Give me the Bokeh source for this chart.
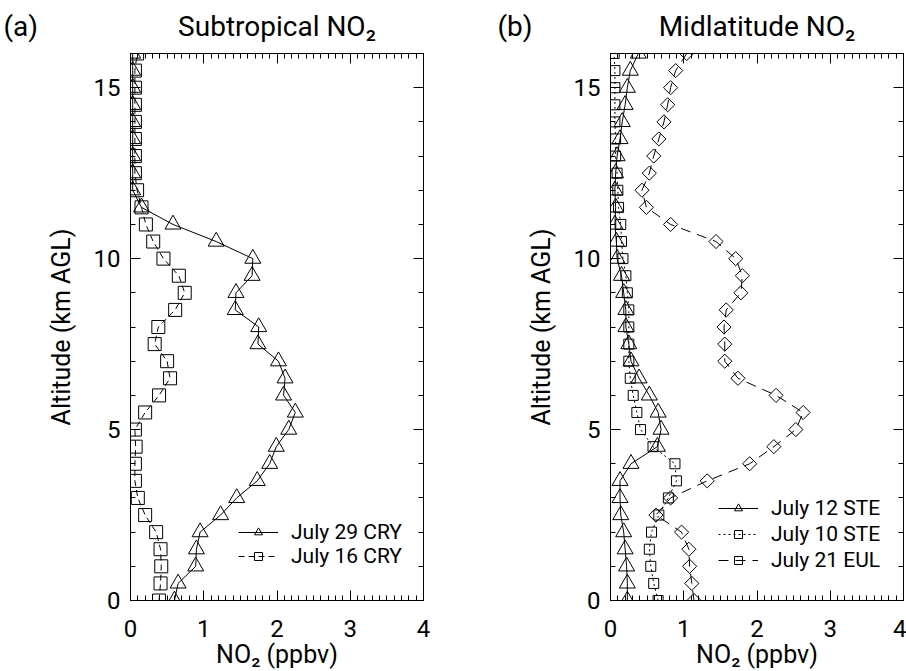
import numpy as np
from bokeh.plotting import figure
from bokeh.layouts import row, column
from bokeh.models import (LinearAxis, SingleIntervalTicker, Range1d, Legend,
                          LegendItem, Label, CustomLabelingPolicy)
from bokeh.embed import file_html
from bokeh.resources import INLINE

# ---------------- data ----------------
altitude_km = [0.0, 0.5, 1.0, 1.5, 2.0, 2.5, 3.0, 3.5, 4.0, 4.5, 5.0, 5.5,
               6.0, 6.5, 7.0, 7.5, 8.0, 8.5, 9.0, 9.5, 10.0, 10.5, 11.0, 11.5,
               12.0, 12.5, 13.0, 13.5, 14.0, 14.5, 15.0, 15.5, 16.0]

# (a) Subtropical
jul29_cry = [0.60, 0.65, 0.89, 0.90, 0.95, 1.23, 1.45, 1.73, 1.90, 1.99, 2.16, 2.25,
             2.09, 2.11, 2.02, 1.74, 1.75, 1.43, 1.44, 1.66, 1.67, 1.17, 0.58, 0.15,
             0.03, 0.03, 0.03, 0.03, 0.03, 0.03, 0.03, 0.03, 0.03]
jul16_cry = [0.39, 0.41, 0.42, 0.41, 0.35, 0.20, 0.10, 0.06, 0.06, 0.07, 0.06, 0.20,
             0.39, 0.54, 0.50, 0.33, 0.38, 0.61, 0.74, 0.66, 0.45, 0.31, 0.21, 0.15,
             0.09, 0.06, 0.06, 0.06, 0.06, 0.06, 0.06, 0.06, 0.09]

# (b) Midlatitude
jul12_ste = [0.23, 0.23, 0.22, 0.20, 0.18, 0.14, 0.13, 0.13, 0.28, 0.64, 0.69, 0.65,
             0.53, 0.39, 0.28, 0.25, 0.21, 0.21, 0.18, 0.15, 0.09, 0.08, 0.06, 0.07,
             0.06, 0.07, 0.09, 0.13, 0.16, 0.20, 0.23, 0.27, 0.38]
jul10_ste = [0.65, 0.59, 0.55, 0.53, 0.56, 0.66, 0.79, 0.90, 0.88, 0.58, 0.41, 0.36,
             0.31, 0.27, 0.25, 0.25, 0.25, 0.25, 0.23, 0.21, 0.17, 0.15, 0.14, 0.11,
             0.10, 0.09, 0.07, 0.07, 0.06, 0.06, 0.06, 0.06, 0.05]
jul21_eul = [1.14, 1.11, 1.08, 1.07, 0.97, 0.62, 0.82, 1.32, 1.90, 2.23, 2.53, 2.63,
             2.26, 1.74, 1.56, 1.56, 1.55, 1.58, 1.78, 1.80, 1.71, 1.44, 0.82, 0.49,
             0.43, 0.53, 0.59, 0.66, 0.73, 0.78, 0.82, 0.89, 1.04]

x_label = "NO\u2082 (ppbv)"
y_label = "Altitude (km AGL)"
panel_tags = ["(a)", "(b)"]
panel_titles = ["Subtropical NO\u2082", "Midlatitude NO\u2082"]

FONT = "Roboto"
W, H = 906, 671
HEADER_H = 45
FIG_W = 453
FRAME_W = 293
LEFT_BORDERS = [130, 157]

hide_labels = CustomLabelingPolicy(code="""
try { for (const i of Array.from(indices)) { indices.unset(i) } } catch (e) {}
return indices
""")


def make_fig(left_border, right_border):
    p = figure(width=FIG_W, height=H - HEADER_H, x_range=Range1d(0, 4), y_range=Range1d(0, 16),
               output_backend="svg", toolbar_location=None, title_location=None,
               min_border_left=left_border, min_border_right=right_border,
               min_border_top=53 - HEADER_H, min_border_bottom=71,
               x_axis_label=x_label, y_axis_label=y_label)
    p.xgrid.visible = False
    p.ygrid.visible = False
    p.outline_line_color = "black"
    p.background_fill_color = "white"
    p.border_fill_color = "white"

    xt = SingleIntervalTicker(interval=1, num_minor_ticks=10)
    yt = SingleIntervalTicker(interval=5, num_minor_ticks=5)
    p.xaxis.ticker = xt
    p.yaxis.ticker = yt

    for ax in (p.xaxis[0], p.yaxis[0]):
        ax.major_tick_in = 10
        ax.major_tick_out = 0
        ax.minor_tick_in = 5
        ax.minor_tick_out = 0
        ax.axis_line_color = "black"
        ax.major_tick_line_color = "black"
        ax.minor_tick_line_color = "black"
        ax.major_label_text_font = FONT
        ax.major_label_text_font_size = "24px"
        ax.major_label_text_color = "black"
        ax.axis_label_text_font = FONT
        ax.axis_label_text_font_size = "25px"
        ax.axis_label_text_font_style = "normal"
        ax.axis_label_text_color = "black"
    p.xaxis.major_label_standoff = 19
    p.xaxis.axis_label_standoff = 0
    p.yaxis.major_label_standoff = 10
    p.yaxis.axis_label_standoff = 15

    for side, tk in (("above", xt), ("right", yt)):
        ax = LinearAxis(ticker=tk, major_tick_in=10, major_tick_out=0,
                        minor_tick_in=5, minor_tick_out=0,
                        major_label_text_font_size="0px", major_label_standoff=0,
                        major_label_policy=hide_labels,
                        axis_line_color="black", major_tick_line_color="black",
                        minor_tick_line_color="black")
        p.add_layout(ax, side)
    return p


def add_legend(p, items, loc, spacing):
    leg = Legend(items=items, location=loc, glyph_width=40, glyph_height=20,
                 label_height=20, spacing=spacing, padding=0, margin=0,
                 label_standoff=13, label_text_font=FONT, label_text_font_size="21px",
                 label_text_color="black", background_fill_alpha=0,
                 border_line_alpha=0)
    p.add_layout(leg)


# ---------------- header with panel tags and titles ----------------
header = figure(width=W, height=HEADER_H, x_range=Range1d(0, W), y_range=Range1d(0, HEADER_H),
                x_axis_type=None, y_axis_type=None, output_backend="svg",
                toolbar_location=None, title_location=None, min_border=0,
                outline_line_color=None)
header.xgrid.visible = False
header.ygrid.visible = False
header.border_fill_color = "white"
tag_x = [3, 497]
middle_y = HEADER_H - 26
for i in range(2):
    header.add_layout(Label(x=tag_x[i], y=middle_y, text=panel_tags[i], text_font=FONT,
                            text_font_size="28px", text_color="black",
                            text_align="left", text_baseline="middle"))
    cx = i * FIG_W + LEFT_BORDERS[i] + FRAME_W / 2
    header.add_layout(Label(x=cx, y=middle_y, text=panel_titles[i], text_font=FONT,
                            text_font_size="28px", text_color="black",
                            text_align="center", text_baseline="middle"))

# ---------------- panel (a) ----------------
pa = make_fig(LEFT_BORDERS[0], FIG_W - LEFT_BORDERS[0] - FRAME_W)
la1 = pa.line(jul29_cry, altitude_km, line_color="black", line_width=1)
sa1 = pa.scatter(jul29_cry, altitude_km, marker="triangle", size=16,
                 fill_color=None, line_color="black", line_width=1)
la2 = pa.line(jul16_cry, altitude_km, line_color="black", line_width=1, line_dash="6 4")
sa2 = pa.scatter(jul16_cry, altitude_km, marker="square", size=13,
                 fill_color=None, line_color="black", line_width=1)
add_legend(pa, [LegendItem(label="July 29 CRY", renderers=[la1, sa1]),
                LegendItem(label="July 16 CRY", renderers=[la2, sa2])],
           (108, 32), -4)

# ---------------- panel (b) ----------------
pb = make_fig(LEFT_BORDERS[1], FIG_W - LEFT_BORDERS[1] - FRAME_W)
lb1 = pb.line(jul12_ste, altitude_km, line_color="black", line_width=1)
sb1 = pb.scatter(jul12_ste, altitude_km, marker="triangle", size=16,
                 fill_color=None, line_color="black", line_width=1)
lb2 = pb.line(jul10_ste, altitude_km, line_color="black", line_width=1, line_dash="2 3")
sb2 = pb.scatter(jul10_ste, altitude_km, marker="square", size=10,
                 fill_color=None, line_color="black", line_width=1)
lb3 = pb.line(jul21_eul, altitude_km, line_color="black", line_width=1, line_dash="10 7")
sb3 = pb.scatter(jul21_eul, altitude_km, marker="square", size=10, angle=np.pi / 4,
                 fill_color=None, line_color="black", line_width=1)
add_legend(pb, [LegendItem(label="July 12 STE", renderers=[lb1, sb1]),
                LegendItem(label="July 10 STE", renderers=[lb2, sb2]),
                LegendItem(label="July 21 EUL", renderers=[lb3, sb3])],
           (108, 28), 2)

layout = column(header, row(pa, pb))
open("out.html", "w").write(file_html(layout, INLINE))
